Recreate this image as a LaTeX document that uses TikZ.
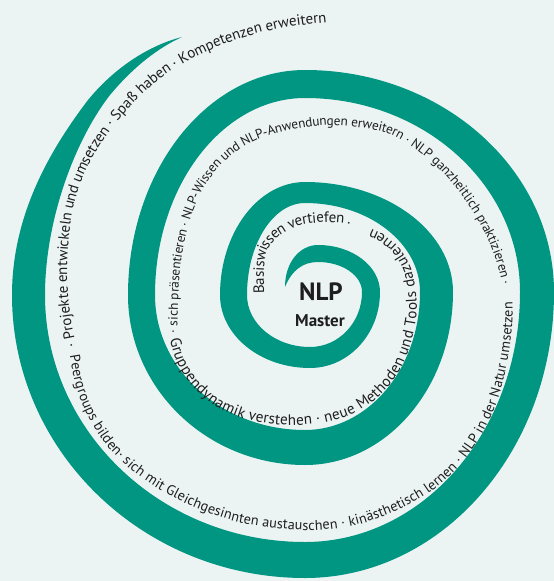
\documentclass[tikz,border=0pt]{standalone}
\usepackage{fontspec}
\setmainfont{PT Sans}
\newfontfamily\spiralfont{PT Sans}
\usetikzlibrary{decorations.text}
\definecolor{bg}{RGB}{236,244,243}
\definecolor{band}{RGB}{0,150,130}
\definecolor{ink}{RGB}{30,30,30}
\begin{document}
\begin{tikzpicture}[x=1pt,y=-1pt,
  spiraltext/.style 2 args={decorate, decoration={text along path, raise=-4.2pt, text color=ink,
     text={|\spiralfont\fontsize{#1}{#1}\selectfont|#2}}}]
\fill[bg] (0,0) rectangle (554,581);
\useasboundingbox (0,0) rectangle (554,581);
% spiral band: outer edge from the inner tip to the outer tip, then inner edge back
\fill[band] (285,287) .. controls (285,262) and (300,245) .. (318,245)
 .. controls (352.2,245) and (380,266.1) .. (380,292)
 .. controls (380,334) and (348.6,368) .. (310,368)
 .. controls (260.3,368) and (220,335.3) .. (220,295)
 .. controls (220,232.6) and (258.1,182) .. (305,182)
 .. controls (386.7,182) and (453,231.3) .. (453,292)
 .. controls (453,387.5) and (386.7,465) .. (305,465)
 .. controls (207.3,465) and (128,388.8) .. (128,295)
 .. controls (128,170.8) and (207.3,70) .. (305,70)
 .. controls (442.4,70) and (554,169.5) .. (554,292)
 .. controls (554,449.9) and (442.4,578) .. (305,578)
 .. controls (143.3,578) and (12,451.2) .. (12,295)
 .. controls (12,215) and (50,150) .. (88,100)
 .. controls (115,67) and (150,45) .. (182,37)
 .. controls (160,47) and (135,65) .. (110,95)
 .. controls (75,140) and (45,220) .. (45,295)
 .. controls (45,431.3) and (161.5,542) .. (305,542)
 .. controls (423.7,542) and (520,430) .. (520,292)
 .. controls (520,184.9) and (423.7,98) .. (305,98)
 .. controls (222.2,98) and (155,186.3) .. (155,295)
 .. controls (155,369.5) and (222.2,430) .. (305,430)
 .. controls (368.5,430) and (420,368.2) .. (420,292)
 .. controls (420,242.9) and (368.5,203) .. (305,203)
 .. controls (273,203) and (247,244.2) .. (247,295)
 .. controls (247,323.7) and (275.2,347) .. (310,347)
 .. controls (338.7,347) and (362,322.4) .. (362,292)
 .. controls (362,275.4) and (342.3,262) .. (318,262)
 .. controls (303,262) and (292,270) .. (285,287) -- cycle;
% centre
\node[font=\bfseries\fontsize{25}{26}\selectfont, text=ink] (nlp) at (321,292) {NLP};
\node[font=\bfseries\fontsize{17}{18}\selectfont, text=ink] (master) at (320,321) {Master};
% texts along the spiral (each path runs on well past the end of its text)
\path[spiraltext={15}{Basiswissen vertiefen .}] plot[smooth] coordinates {(260,294) (260,268) (264,247) (279,231) (300,221) (325,218) (345,219) (358,223) (370,228) (388,240) (400,258) (405,280)};
\path[spiraltext={15.2}{Gruppendynamik verstehen · neue Methoden und Tools dazulernen}] plot[smooth] coordinates {(174,338) (181,361) (196,384) (220,404) (250,416) (285,421) (320,419) (349,411) (374,395) (394,372) (406,345) (412,318) (412,295) (407,270) (395,250) (379,237) (360,229) (340,224) (318,222) (295,224) (272,231) (255,245)};
\path[spiraltext={13.3}{· sich präsentieren · NLP-Wissen und NLP-Anwendungen erweitern · NLP ganzheitlich praktizieren ·}] plot[smooth] coordinates {(173,333) (174,300) (176,268) (181,238) (189,210) (200,186) (215,165) (234,148) (258,135) (290,126) (325,121) (358,123) (390,130) (415,144) (440,164) (460,186) (477,210) (491,236) (501,262) (507,288) (508,320) (506,352) (500,384) (490,414)};
\path[spiraltext={14.2}{Peergroups bilden· sich mit Gleichgesinnten austauschen · kinästhetisch lernen · NLP in der Natur umsetzen}] plot[smooth] coordinates {(74,355) (80,385) (92,415) (110,443) (133,466) (160,485) (195,503) (235,517) (275,524) (315,526) (355,521) (395,507) (430,487) (458,461) (479,431) (494,398) (503,362) (508,325) (508,292) (505,260) (498,230) (486,202) (470,176)};
\path[spiraltext={15}{· Projekte entwickeln und umsetzen · Spaß haben · Kompetenzen erweitern}] plot[smooth] coordinates {(72,347) (66,315) (63,280) (64,245) (68,212) (76,183) (89,155) (106,129) (124,107) (143,88) (165,70) (190,55) (218,42) (250,31) (285,23) (327,18) (360,16) (395,16) (430,18) (465,22)};
\end{tikzpicture}
\end{document}
